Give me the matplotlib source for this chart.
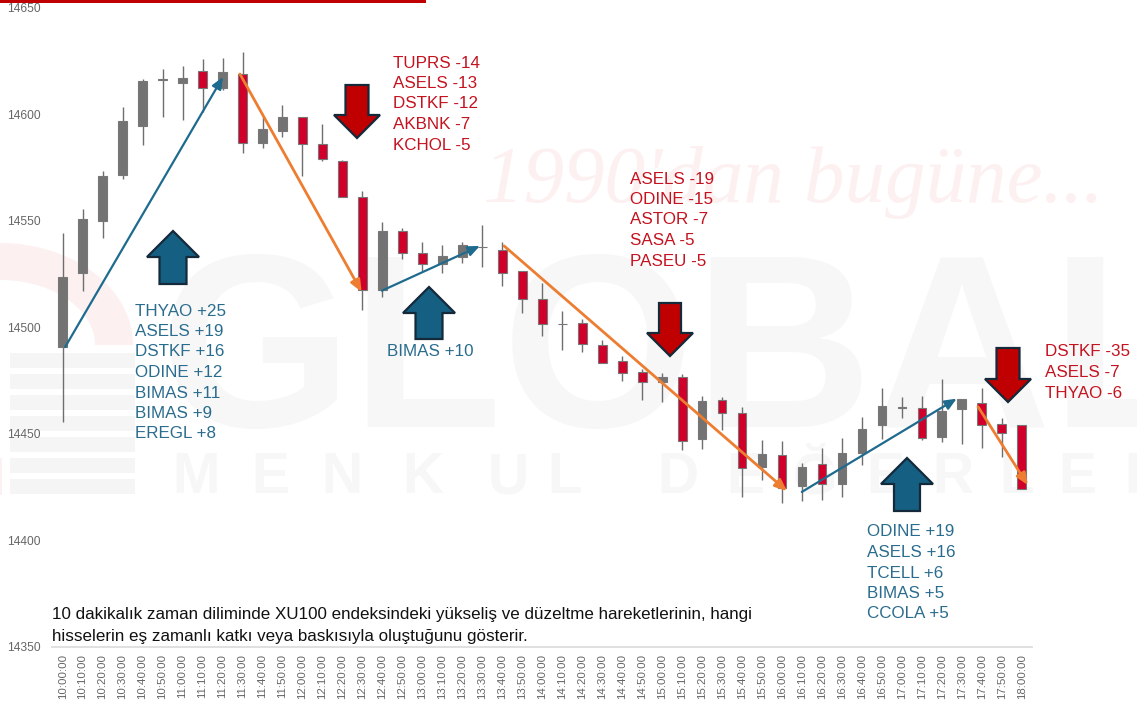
"""
XU100 10 minute candles with the stocks behind each swing.
"""
import numpy as np
import matplotlib
matplotlib.use("Agg")
import matplotlib.pyplot as plt
from matplotlib.patches import Polygon, Rectangle

W, H = 1137, 705

times = ["10:00:00", "10:10:00", "10:20:00", "10:30:00", "10:40:00", "10:50:00", "11:00:00",
         "11:10:00", "11:20:00", "11:30:00", "11:40:00", "11:50:00", "12:00:00", "12:10:00",
         "12:20:00", "12:30:00", "12:40:00", "12:50:00", "13:00:00", "13:10:00", "13:20:00",
         "13:30:00", "13:40:00", "13:50:00", "14:00:00", "14:10:00", "14:20:00", "14:30:00",
         "14:40:00", "14:50:00", "15:00:00", "15:10:00", "15:20:00", "15:30:00", "15:40:00",
         "15:50:00", "16:00:00", "16:10:00", "16:20:00", "16:30:00", "16:40:00", "16:50:00",
         "17:00:00", "17:10:00", "17:20:00", "17:30:00", "17:40:00", "17:50:00", "18:00:00"]

body_top = [14523.8, 14551, 14571.3, 14597, 14615.7, 14616.5, 14617, 14620.4, 14620, 14619,
            14593, 14598.7, 14599, 14586.3, 14578, 14561.3, 14545.4, 14545.4, 14535, 14533.7,
            14538.8, 14538, 14536.3, 14526.5, 14513.6, 14501.8, 14502, 14492, 14484.3, 14479,
            14476.8, 14476.8, 14465.7, 14466, 14459.9, 14440.7, 14440, 14434.4, 14436, 14441,
            14452.4, 14463, 14462.5, 14462, 14461, 14466.6, 14464.6, 14454.8, 14454]
body_bottom = [14491, 14525.5, 14550, 14571.6, 14594.7, 14616, 14615, 14612.3, 14612.3, 14586.8,
               14586.8, 14592.4, 14586.3, 14579, 14561.3, 14517.7, 14517.7, 14534.8, 14529.8, 14529.8,
               14532.9, 14537.8, 14525.6, 14513.5, 14501.8, 14501.6, 14492.4, 14483.4, 14478.7, 14474.5,
               14474.3, 14446.6, 14447.5, 14460, 14434, 14434.7, 14424.7, 14425.8, 14426.3, 14426.3,
               14441, 14454, 14462.2, 14448, 14448.4, 14461.6, 14454, 14450.4, 14424.4]
highs = [14544.4, 14555.7, 14573.5, 14603.7, 14616.5, 14621.3, 14622.7, 14626, 14626.5, 14629.3,
         14599, 14604.3, 14599, 14595.7, 14578.8, 14564.3, 14549.6, 14546.6, 14540, 14538.5,
         14540, 14548.2, 14540, 14526.5, 14520.9, 14507.6, 14504, 14494.3, 14486.8, 14480.7,
         14478.7, 14478.3, 14468, 14467.4, 14462.5, 14447, 14446.6, 14436.4, 14443.3, 14448,
         14457.8, 14471.7, 14467.4, 14468, 14476, 14466.6, 14471.7, 14457.6, 14454]
lows = [14455.8, 14517, 14542, 14569.8, 14585.7, 14598.8, 14597.4, 14601.3, 14611.5, 14582,
        14584.4, 14589.6, 14571.3, 14578.2, 14561.3, 14508, 14514.1, 14532, 14526.3, 14525.6,
        14530.5, 14528.4, 14519.3, 14507, 14496, 14489.6, 14488.3, 14483.4, 14475, 14466,
        14465, 14442.4, 14443, 14452, 14420.4, 14428.6, 14417.4, 14418.5, 14419, 14420.4,
        14435.3, 14447.7, 14457.6, 14447, 14446.3, 14445.4, 14443.5, 14439, 14424.4]
# 1 = red candle, 0 = gray candle
is_red = [0, 0, 0, 0, 0, 0, 0, 1, 0, 1, 0, 0, 1, 1, 1, 1, 0, 1, 1, 0, 0, 0, 1, 1, 1,
          0, 1, 1, 1, 1, 0, 1, 0, 1, 1, 0, 1, 0, 1, 0, 0, 0, 0, 1, 0, 0, 1, 1, 1]

y_ticks = [14350, 14400, 14450, 14500, 14550, 14600, 14650]

# (index, price) -> (index, price)
up_moves = [((0.12, 14490.8), (8.02, 14617.6)),
            ((15.98, 14517.3), (20.88, 14538.3)),
            ((36.99, 14422.8), (44.74, 14466.6))]
down_moves = [((8.87, 14619), (14.96, 14516.7)),
              ((22.09, 14538.3), (36.25, 14423.2)),
              ((45.81, 14462.8), (48.3, 14426))]

labels_a = ["THYAO +25", "ASELS +19", "DSTKF +16", "ODINE +12", "BIMAS +11", "BIMAS +9", "EREGL +8"]
labels_b = ["BIMAS +10"]
labels_c = ["ODINE +19", "ASELS +16", "TCELL +6", "BIMAS +5", "CCOLA +5"]
labels_d = ["TUPRS -14", "ASELS -13", "DSTKF -12", "AKBNK -7", "KCHOL -5"]
labels_e = ["ASELS -19", "ODINE -15", "ASTOR -7", "SASA -5", "PASEU -5"]
labels_f = ["DSTKF -35", "ASELS -7", "THYAO -6"]

note_lines = ["10 dakikalık zaman diliminde XU100 endeksindeki yükseliş ve düzeltme hareketlerinin, hangi",
              "hisselerin eş zamanlı katkı veya baskısıyla oluştuğunu gösterir."]

BLUE_TEXT = "#2A6C8E"
RED_TEXT = "#C4121F"
GRAY = "#737373"
RED = "#D0002A"

plt.rcParams["font.family"] = ["Liberation Sans", "DejaVu Sans"]


def px(size):
    # font size in points for a size given in pixels at dpi 100
    return size * 0.72


def add_axes_px(fig, left, top, right, bottom):
    return fig.add_axes([left / W, 1 - bottom / H, (right - left) / W, (bottom - top) / H])


def overlay(fig, zorder):
    ax = fig.add_axes([0, 0, 1, 1], zorder=zorder)
    ax.set_xlim(0, W)
    ax.set_ylim(H, 0)
    ax.axis("off")
    return ax


def block_arrow(ax, cx, tip, wing_y, base, half_shaft, half_head, color):
    pts = [(cx, tip), (cx + half_head, wing_y), (cx + half_shaft, wing_y), (cx + half_shaft, base),
           (cx - half_shaft, base), (cx - half_shaft, wing_y), (cx - half_head, wing_y)]
    ax.add_patch(Polygon(pts, closed=True, facecolor=color, edgecolor="#14293A", linewidth=1.6))


def text_block(ax, lines, x, y, color, size=17, step=20.5):
    for i, line in enumerate(lines):
        ax.text(x, y + i * step, line, color=color, fontsize=px(size), va="center", ha="left")


fig = plt.figure(figsize=(W / 100, H / 100), dpi=100, facecolor="white")

# watermark behind the chart
bg = overlay(fig, 0)
bg.text(160, 427, "GLOBAL", fontsize=px(247), fontweight="bold", color="#F7F7F7",
        ha="left", va="baseline", clip_on=True)
bg.text(483, 202, "1990'dan bugüne...", fontsize=px(81), family="Liberation Serif", style="italic",
        color="#FDF0F1", ha="left", va="baseline")
wm_letters = "MENKULDEĞERLER"
wm_x = [196, 270, 342, 423, 508, 565, 678, 745, 815, 885, 953, 1017, 1077, 1145]
for ch, x in zip(wm_letters, wm_x):
    bg.text(x, 493, ch, fontsize=px(57), fontweight="bold", color="#F7F7F7",
            ha="center", va="baseline", clip_on=True)
for i in range(7):
    bg.add_patch(Rectangle((10, 353 + i * 21), 125, 14.5, facecolor="#F5F5F5", edgecolor="none"))

# pink arc of the logo
theta = np.linspace(0, np.pi / 2, 40)
outer = np.column_stack([133 * np.cos(theta), 345 - 102 * np.sin(theta)])
inner = np.column_stack([95 * np.cos(theta), 345 - 65 * np.sin(theta)])
bg.add_patch(Polygon(np.vstack([outer, inner[::-1]]), closed=True, facecolor="#FDF0F1", edgecolor="none"))
bg.add_patch(Rectangle((0, 458), 2, 37, facecolor="#FDF0F1", edgecolor="none"))
bg.add_patch(Rectangle((0, 0), 426, 3, facecolor="#C00000", edgecolor="none"))

# candles
ax = add_axes_px(fig, 52, 8, 1032, 647)
ax.set_zorder(1)
ax.patch.set_alpha(0)
ax.set_xlim(-0.535, 48.51)
ax.set_ylim(14350, 14650)

for i in range(len(times)):
    ax.vlines(i, lows[i], highs[i], color="#6E6E6E", linewidth=1.0, zorder=2)
    height = body_top[i] - body_bottom[i]
    face = RED if is_red[i] else GRAY
    ax.add_patch(Rectangle((i - 0.22, body_bottom[i]), 0.44, height, facecolor=face,
                           edgecolor="#777777", linewidth=0.8, zorder=3))

for moves, color, lw in ((up_moves, "#1F6B8E", 1.6), (down_moves, "#ED7D31", 2.0)):
    for start, end in moves:
        ax.annotate("", xy=end, xytext=start, zorder=5,
                    arrowprops=dict(arrowstyle="-|>,head_length=0.7,head_width=0.3", color=color,
                                    lw=lw, shrinkA=0, shrinkB=0))

ax.set_xticks(range(len(times)))
ax.set_xticklabels(times, rotation=90, fontsize=px(11.5), color="#666666")
ax.set_yticks(y_ticks)
ax.set_yticklabels([str(v) for v in y_ticks], fontsize=px(12), color="#666666")
ax.tick_params(axis="x", length=0, pad=5)
ax.tick_params(axis="y", length=0, pad=8)
for side in ("top", "left", "right"):
    ax.spines[side].set_visible(False)
ax.spines["bottom"].set_color("#E0E0E0")
ax.spines["bottom"].set_linewidth(1.4)

# callouts on top
top = overlay(fig, 2)
block_arrow(top, 173, 231, 257, 284, 13.5, 26, "#156082")
block_arrow(top, 429, 287, 313, 339, 13.5, 26, "#156082")
block_arrow(top, 907, 458, 484, 511, 13, 26, "#156082")
block_arrow(top, 357, 138, 115, 85, 11.5, 23, "#C00000")
block_arrow(top, 670, 356, 333, 303, 11, 23, "#C00000")
block_arrow(top, 1008, 402, 379, 348, 11.5, 23, "#C00000")

text_block(top, labels_a, 135, 311, BLUE_TEXT)
text_block(top, labels_b, 387, 352, BLUE_TEXT)
text_block(top, labels_c, 867, 532, BLUE_TEXT)
text_block(top, labels_d, 393, 63, RED_TEXT)
text_block(top, labels_e, 630, 179, RED_TEXT)
text_block(top, labels_f, 1045, 352, RED_TEXT)
text_block(top, note_lines, 52, 615, "#111111", step=22)

fig.savefig("out.png", dpi=100)
